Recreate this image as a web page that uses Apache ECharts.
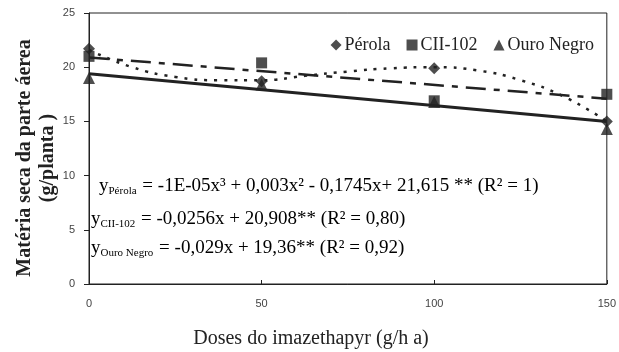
<!DOCTYPE html>
<html>
<head>
<meta charset="utf-8">
<script src="https://cdn.jsdelivr.net/npm/echarts@6/dist/echarts.min.js"></script>
<style>
  html, body { margin: 0; padding: 0; background: #fff; }
  #container { width: 619px; height: 352px; }
</style>
</head>
<body>
<div id="container"></div>
<script>
// dados observados
var doses = [0, 50, 100, 150];
var perola = [21.7, 18.7, 19.9, 15.0];
var cii102 = [21.0, 20.4, 16.9, 17.5];
var ouroNegro = [19.0, 18.4, 16.8, 14.3];

// curvas ajustadas
var perolaFitX = [0, 12.5, 25, 37.5, 50, 62.5, 75, 87.5, 100, 112.5, 125, 137.5, 150];
var perolaFitY = [21.6, 20.0, 19.1, 18.8, 18.8, 19.2, 19.6, 19.9, 20.0, 19.7, 18.8, 17.3, 15.0];
var ciiFitX = [0, 150];
var ciiFitY = [20.9, 17.1];
var ouroFitX = [0, 150];
var ouroFitY = [19.4, 15.0];

var xTicks = [0, 50, 100, 150];
var yTicks = [0, 5, 10, 15, 20, 25];

function pares(xs, ys) {
  return xs.map(function (x, i) { return [x, ys[i]]; });
}

var serif = '"Liberation Serif", "Times New Roman", serif';
var sans = '"Liberation Sans", Arial, sans-serif';
var cor = '#222';
var richEq = {
  a: { fontFamily: serif, fontSize: 19, color: cor, verticalAlign: 'middle', lineHeight: 24 },
  s: { fontFamily: serif, fontSize: 11, color: cor, verticalAlign: 'bottom', lineHeight: 24, padding: [0, 1, 1, 0] }
};

var dom = document.getElementById("container");
var myChart = echarts.init(dom);
var option = {
  backgroundColor: '#fff',
  animation: false,
  grid: { left: 89, right: 8, top: 13, bottom: 68, show: true, borderColor: cor, borderWidth: 1 },
  legend: {
    right: 20, top: 31,
    itemWidth: 11, itemHeight: 11, itemGap: 16,
    textStyle: { fontFamily: serif, fontSize: 18, color: cor, padding: [0, 0, 0, -2] },
    data: [
      { name: 'Pérola', icon: 'diamond' },
      { name: 'CII-102', icon: 'rect' },
      { name: 'Ouro Negro', icon: 'triangle' }
    ]
  },
  xAxis: {
    type: 'value', min: 0, max: 150, interval: 50,
    axisLine: { lineStyle: { color: cor, width: 1 } },
    axisTick: { inside: true, length: 4, lineStyle: { color: cor } },
    axisLabel: { margin: 14, fontFamily: sans, fontSize: 11, color: '#444',
      formatter: function (v) { return xTicks.indexOf(v) >= 0 ? String(v) : ''; } },
    splitLine: { show: false }
  },
  yAxis: {
    type: 'value', min: 0, max: 25, interval: 5,
    axisLine: { show: true, lineStyle: { color: cor, width: 1 } },
    axisTick: { show: true, length: 5, lineStyle: { color: cor } },
    axisLabel: { margin: 14, fontFamily: sans, fontSize: 11, color: '#444',
      formatter: function (v) { return yTicks.indexOf(v) >= 0 ? String(v) : ''; } },
    splitLine: { show: false }
  },
  graphic: [
    { type: 'text', x: 311, y: 339,
      style: { text: 'Doses do imazethapyr (g/h a)', font: '20px ' + serif, fill: cor, align: 'center', verticalAlign: 'middle' } },
    { type: 'text', x: 25, y: 158, rotation: Math.PI / 2,
      style: { text: 'Matéria seca da parte áerea', font: 'bold 20px ' + serif, fill: cor, align: 'center', verticalAlign: 'middle' } },
    { type: 'text', x: 48, y: 158, rotation: Math.PI / 2,
      style: { text: '(g/planta )', font: 'bold 20px ' + serif, fill: cor, align: 'center', verticalAlign: 'middle' } },
    { type: 'text', x: 99, y: 174, style: { rich: richEq,
      text: '{a|y}{s|Pérola}{a| = -1E-05x³ + 0,003x² - 0,1745x+ 21,615 ** (R² = 1)}' } },
    { type: 'text', x: 91, y: 207, style: { rich: richEq,
      text: '{a|y}{s|CII-102}{a| = -0,0256x + 20,908** (R² = 0,80)}' } },
    { type: 'text', x: 91, y: 236, style: { rich: richEq,
      text: '{a|y}{s|Ouro Negro}{a| = -0,029x + 19,36** (R² = 0,92)}' } }
  ],
  series: [
    { name: 'fitPerola', type: 'line', data: pares(perolaFitX, perolaFitY), smooth: true, symbol: 'none',
      lineStyle: { color: cor, width: 2.5, type: [3, 7] }, z: 2 },
    { name: 'fitCII', type: 'line', data: pares(ciiFitX, ciiFitY), symbol: 'none',
      lineStyle: { color: cor, width: 2.5, type: [20, 8, 6, 8] }, z: 2 },
    { name: 'fitOuro', type: 'line', data: pares(ouroFitX, ouroFitY), symbol: 'none',
      lineStyle: { color: cor, width: 3 }, z: 2 },
    { name: 'Pérola', type: 'scatter', symbol: 'diamond', symbolSize: 12,
      itemStyle: { color: cor }, data: pares(doses, perola), z: 5 },
    { name: 'CII-102', type: 'scatter', symbol: 'rect', symbolSize: 11,
      itemStyle: { color: cor }, data: pares(doses, cii102), z: 5 },
    { name: 'Ouro Negro', type: 'scatter', symbol: 'triangle', symbolSize: 12,
      itemStyle: { color: cor }, data: pares(doses, ouroNegro), z: 5 }
  ]
};
if (option && typeof option === "object") {
  myChart.setOption(option, true);
}
</script>
</body>
</html>
